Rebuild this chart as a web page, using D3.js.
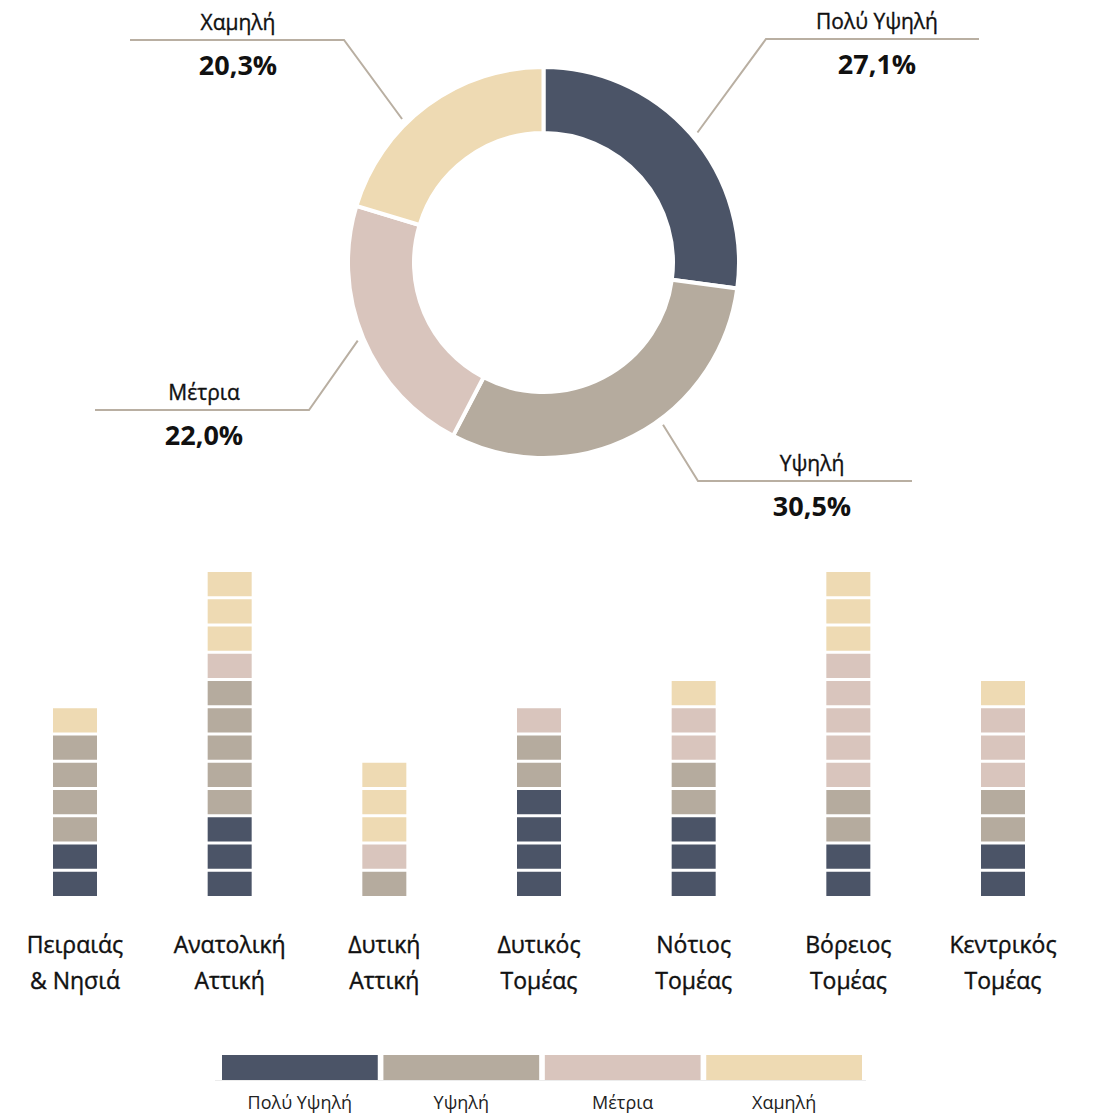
<!DOCTYPE html>
<html>
<head>
<meta charset="utf-8">
<script src="https://cdn.jsdelivr.net/npm/d3@7"></script>
<style>
  html, body { margin: 0; padding: 0; background: #fff; }
  svg { display: block; font-family: "Open Sans", "Noto Sans", sans-serif; }
</style>
</head>
<body>
<svg id="chart" width="1093" height="1116"></svg>
<script>
// Risk levels and their overall share (%)
const levels = ["Πολύ Υψηλή", "Υψηλή", "Μέτρια", "Χαμηλή"];
const shares = [27.1, 30.5, 22.0, 20.3];
const shareLabels = ["27,1%", "30,5%", "22,0%", "20,3%"];

// Areas (each label split over two lines)
const areas = [
  ["Πειραιάς", "& Νησιά"],
  ["Ανατολική", "Αττική"],
  ["Δυτική", "Αττική"],
  ["Δυτικός", "Τομέας"],
  ["Νότιος", "Τομέας"],
  ["Βόρειος", "Τομέας"],
  ["Κεντρικός", "Τομέας"]
];

// Number of units per level in each area
const veryHighCounts = [2, 3, 0, 4, 3, 2, 2];
const highCounts     = [4, 5, 1, 2, 2, 2, 2];
const mediumCounts   = [0, 1, 1, 1, 2, 5, 3];
const lowCounts      = [1, 3, 3, 0, 1, 3, 1];

const colors = ["#4b5467", "#b5ab9e", "#d9c5bd", "#eedab3"];
const lineColor = "#b9afa2";

const svg = d3.select("#chart");
const color = d3.scaleOrdinal().domain(levels).range(colors);

// ---------- Donut ----------
const cx = 543.5, cy = 262.5, outerR = 195.5, innerR = 129.5;
const pieData = levels.map((l, i) => ({ level: l, value: shares[i], label: shareLabels[i] }));
const pie = d3.pie().sort(null).value(d => d.value);
const arcs = pie(pieData);
const arc = d3.arc().innerRadius(innerR).outerRadius(outerR);

const donut = svg.append("g").attr("transform", `translate(${cx},${cy})`);
donut.selectAll("path")
  .data(arcs)
  .enter().append("path")
  .attr("d", arc)
  .attr("fill", d => color(d.data.level))
  .attr("stroke", "#fff")
  .attr("stroke-width", 4)
  .attr("stroke-linejoin", "miter");

// Leader-line layout for each slice label: angle nudge (deg), elbow point, end x
const leaderLayout = [
  { nudge: 1,  elbow: [766, 39],  endX: 979, textX: 877 },
  { nudge: -9, elbow: [698, 481], endX: 912, textX: 812 },
  { nudge: 0,  elbow: [309, 410], endX: 95,  textX: 204 },
  { nudge: -8, elbow: [344, 40],  endX: 130, textX: 238 }
];

const labels = svg.append("g");
arcs.forEach((a, i) => {
  const L = leaderLayout[i];
  const mid = (a.startAngle + a.endAngle) / 2 + L.nudge * Math.PI / 180;
  const r0 = outerR + 6;
  const sx = cx + r0 * Math.sin(mid);
  const sy = cy - r0 * Math.cos(mid);
  labels.append("polyline")
    .attr("points", [[sx, sy], L.elbow, [L.endX, L.elbow[1]]].map(p => p.join(",")).join(" "))
    .attr("fill", "none")
    .attr("stroke", lineColor)
    .attr("stroke-width", 2);
  labels.append("text")
    .attr("x", L.textX).attr("y", L.elbow[1] - 10)
    .attr("text-anchor", "middle")
    .attr("font-size", 21)
    .attr("fill", "#111")
    .attr("stroke", "#111")
    .attr("stroke-width", 0.35)
    .text(a.data.level);
  labels.append("text")
    .attr("x", L.textX).attr("y", L.elbow[1] + 35)
    .attr("text-anchor", "middle")
    .attr("font-size", 27)
    .attr("font-weight", 700)
    .attr("fill", "#111")
    .text(a.data.label);
});

// ---------- Unit columns ----------
const areaKeys = areas.map(a => a.join(" "));
const x = d3.scalePoint().domain(areaKeys).range([75, 1003]);
const y = d3.scaleLinear().domain([0, 12]).range([896, 569]);
const blockW = 44, gap = 3;

const countsByLevel = [veryHighCounts, highCounts, mediumCounts, lowCounts];
const units = [];
areaKeys.forEach((key, ai) => {
  let k = 0;
  countsByLevel.forEach((counts, li) => {
    for (let n = 0; n < counts[ai]; n++) {
      units.push({ area: key, level: levels[li], index: k++ });
    }
  });
});

svg.append("g").selectAll("rect")
  .data(units)
  .enter().append("rect")
  .attr("x", d => x(d.area) - blockW / 2)
  .attr("y", d => y(d.index + 1) + gap)
  .attr("width", blockW)
  .attr("height", d => y(d.index) - y(d.index + 1) - gap)
  .attr("fill", d => color(d.level));

// Area labels
const areaLabels = svg.append("g").selectAll("text")
  .data(areas)
  .enter().append("text")
  .attr("text-anchor", "middle")
  .attr("font-size", 23)
  .attr("fill", "#111")
  .attr("stroke", "#111")
  .attr("stroke-width", 0.4)
  .attr("x", (d, i) => x(areaKeys[i]));
areaLabels.selectAll("tspan")
  .data(d => d)
  .enter().append("tspan")
  .attr("x", function () { return d3.select(this.parentNode).attr("x"); })
  .attr("y", (d, i) => 953 + i * 36)
  .text(d => d);

// ---------- Legend ----------
const legendX = d3.scaleBand().domain(levels).range([222, 862]).paddingInner(0.035);
const legend = svg.append("g");
legend.append("line")
  .attr("x1", 215).attr("x2", 866)
  .attr("y1", 1080.5).attr("y2", 1080.5)
  .attr("stroke", "#ececec").attr("stroke-width", 1);
legend.selectAll("rect")
  .data(levels)
  .enter().append("rect")
  .attr("x", d => legendX(d))
  .attr("y", 1055)
  .attr("width", legendX.bandwidth())
  .attr("height", 25)
  .attr("fill", d => color(d));
legend.selectAll("text")
  .data(levels)
  .enter().append("text")
  .attr("x", d => legendX(d) + legendX.bandwidth() / 2)
  .attr("y", 1109)
  .attr("text-anchor", "middle")
  .attr("font-size", 18)
  .attr("fill", "#222")
  .text(d => d);
</script>
</body>
</html>
